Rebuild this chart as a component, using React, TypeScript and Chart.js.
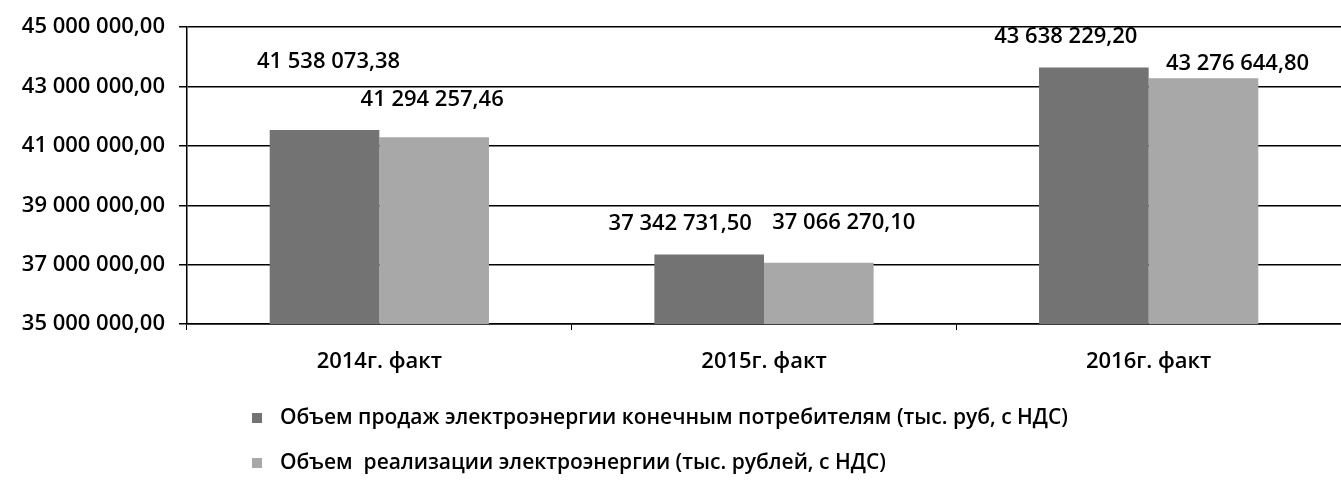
import React, { useEffect, useRef } from "react";
import { Chart, registerables } from "chart.js";

Chart.register(...registerables);

const CATEGORIES = ["2014г. факт", "2015г. факт", "2016г. факт"];
const SALES = [41538073.38, 37342731.5, 43638229.2];
const REALIZATION = [41294257.46, 37066270.1, 43276644.8];
const SERIES_LABELS = [
  "Объем продаж электроэнергии конечным потребителям (тыс. руб, с НДС)",
  "Объем  реализации электроэнергии (тыс. рублей, с НДС)",
];
const Y_MIN = 35000000;
const Y_MAX = 45000000;
const Y_STEP = 2000000;

const COLORS = ["#737373", "#a8a8a8"];
const FONT = '"Open Sans", "Noto Sans", sans-serif';

// label placement (pixel offsets from top-centre of each bar), as in the reference
const LABEL_OFFSETS = [
  [[4, -68], [-29, -31], [-28, -31]],
  [[-2, -37], [25, -40], [34, -15]],
];

function fmt(v: number): string {
  const [i, d] = v.toFixed(2).split(".");
  return i.replace(/\B(?=(\d{3})+(?!\d))/g, " ") + "," + d;
}

const labelPlugin = {
  id: "valueLabels",
  afterDatasetsDraw(chart: any) {
    const ctx = chart.ctx;
    ctx.save();
    ctx.font = `600 22px ${FONT}`;
    ctx.fillStyle = "#000";
    ctx.textAlign = "center";
    ctx.textBaseline = "middle";
    chart.data.datasets.forEach((ds: any, i: number) => {
      const meta = chart.getDatasetMeta(i);
      meta.data.forEach((bar: any, j: number) => {
        const off = LABEL_OFFSETS[i][j];
        ctx.fillText(fmt(ds.data[j]), bar.x + off[0], bar.y + off[1]);
      });
    });
    ctx.restore();
  },
};

const legendPlugin = {
  id: "customLegend",
  afterDraw(chart: any) {
    const ctx = chart.ctx;
    const base = chart.chartArea.bottom;
    const rows = [94, 139];
    ctx.save();
    ctx.font = `600 21px ${FONT}`;
    ctx.textAlign = "left";
    ctx.textBaseline = "middle";
    chart.data.datasets.forEach((ds: any, i: number) => {
      const y = base + rows[i];
      ctx.fillStyle = ds.backgroundColor;
      ctx.fillRect(252, y - 5, 10, 10);
      ctx.fillStyle = "#000";
      ctx.fillText(ds.label, 280, y);
    });
    ctx.restore();
  },
};

export default function App() {
  const ref = useRef<HTMLCanvasElement | null>(null);

  useEffect(() => {
    document.body.style.margin = "0";
    let chart: Chart | null = null;
    let cancelled = false;
    const make = () => {
      if (cancelled || !ref.current) return;
      chart = new Chart(ref.current, {
        type: "bar",
        data: {
          labels: CATEGORIES,
          datasets: [
            {
              label: SERIES_LABELS[0],
              data: SALES,
              backgroundColor: COLORS[0],
              categoryPercentage: 0.57,
              barPercentage: 1.0,
            },
            {
              label: SERIES_LABELS[1],
              data: REALIZATION,
              backgroundColor: COLORS[1],
              categoryPercentage: 0.57,
              barPercentage: 1.0,
            },
          ],
        },
        options: {
          animation: false,
          responsive: true,
          maintainAspectRatio: false,
          layout: { padding: { top: 22, bottom: 97, left: 0, right: 0 } },
          plugins: {
            legend: { display: false },
            tooltip: { enabled: false },
          },
          scales: {
            x: {
              grid: {
                offset: true,
                drawOnChartArea: false,
                drawTicks: true,
                tickLength: 6,
                color: "#000",
              },
              border: { color: "#000", width: 1.5 },
              ticks: {
                color: "#000",
                font: { family: FONT, size: 22, weight: "600" },
                padding: 19,
              },
              afterFit(scale: any) {
                scale.height = 60;
              },
            },
            y: {
              min: Y_MIN,
              max: Y_MAX,
              ticks: {
                stepSize: Y_STEP,
                color: "#000",
                font: { family: FONT, size: 22, weight: "600" },
                padding: 14,
                callback: (v: any) => fmt(Number(v)),
              },
              grid: {
                color: "#000",
                lineWidth: 1.5,
                tickLength: 8,
              },
              border: { color: "#000", width: 1.5 },
              afterFit(scale: any) {
                scale.width = 187;
              },
            },
          },
        },
        plugins: [labelPlugin, legendPlugin],
      });
    };
    const fonts: any = (document as any).fonts;
    if (fonts && fonts.load) {
      Promise.all([
        fonts.load(`600 22px "Open Sans"`),
        fonts.load(`22px "Open Sans"`),
      ]).then(make, make);
    } else {
      make();
    }
    return () => {
      cancelled = true;
      if (chart) chart.destroy();
    };
  }, []);

  return (
    <div style={{ width: 1341, height: 481, position: "relative", background: "#fff" }}>
      <canvas ref={ref} />
    </div>
  );
}
